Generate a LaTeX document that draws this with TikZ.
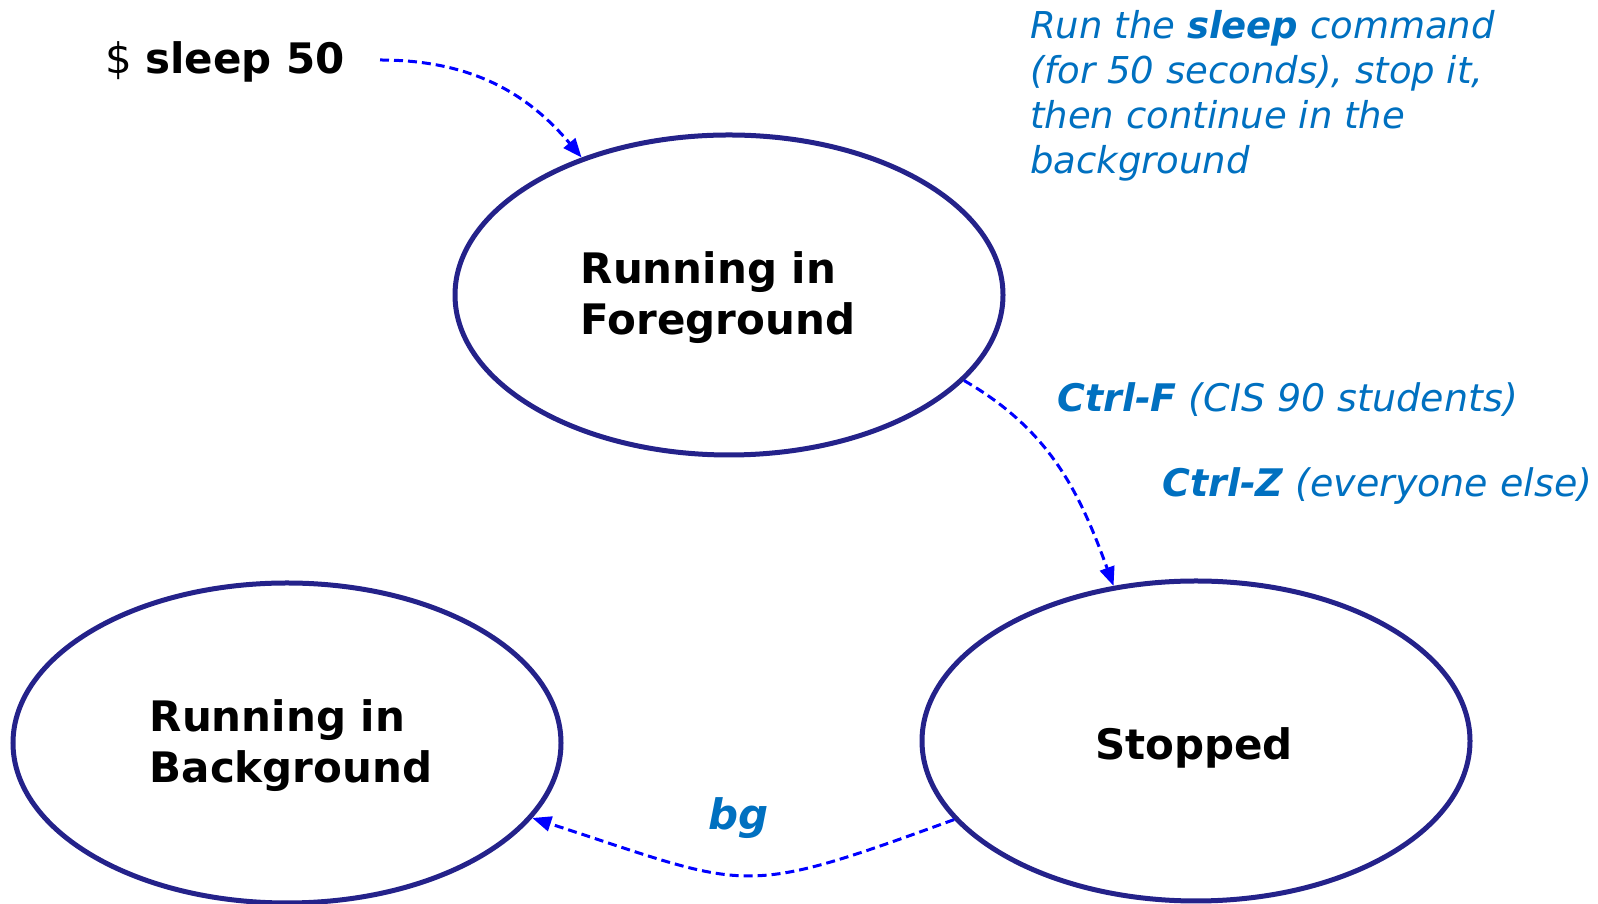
\documentclass[tikz,border=0pt]{standalone}
\usepackage{fontspec}
\setmainfont{DejaVu Sans}
\usetikzlibrary{shapes.geometric, arrows.meta}
\definecolor{navy}{RGB}{36,34,138}
\definecolor{arrowblue}{RGB}{0,0,255}
\definecolor{noteblue}{RGB}{0,112,192}
\tikzset{
  state/.style={ellipse, draw=navy, line width=5pt, minimum width=548pt, minimum height=320pt, inner sep=0pt},
  statelbl/.style={align=left, inner sep=0pt, font=\fontsize{42}{51}\selectfont\bfseries},
  flow/.style={draw=arrowblue, line width=3pt, dash pattern=on 9pt off 5pt, -{Triangle[length=19pt,width=15pt]}},
  note/.style={text=noteblue, font=\fontsize{37}{45}\selectfont\itshape, align=left, inner sep=0pt},
  keynote/.style={note, font=\fontsize{38}{45}\selectfont\itshape},
  cmd/.style={font=\fontsize{42}{51}\selectfont, inner sep=0pt}
}
\begin{document}
\begin{tikzpicture}[x=1pt, y=1pt]
        \useasboundingbox (0,0) rectangle (1598,904);
        % the three states
        \node[state] (fg) at (729,609) {};
        \node[state] (bg) at (287,161) {};
        \node[state] (st) at (1196,163) {};
        \node[statelbl] (fglbl) at (718,606) {Running in\\Foreground};
        \node[statelbl] (bglbl) at (291,158) {Running in\\Background};
        \node[statelbl] (stlbl) at (1194,156) {Stopped};
        % command and notes
        \node[cmd, anchor=base west] (cmd) at (105,830) {\$ \textbf{sleep 50}};
        \coordinate (cmdout) at (380,844);
        \node[note, anchor=north west] (task) at (1030,894) {Run the \textbf{sleep} command\\(for 50 seconds), stop it,\\then continue in the\\background};
        \node[keynote, anchor=base west] (ctrlf) at (1057,492) {\textbf{Ctrl-F} (CIS 90 students)};
        \node[keynote, anchor=base west] (ctrlz) at (1162,407) {\textbf{Ctrl-Z} (everyone else)};
        \node[note, anchor=base west, font=\fontsize{42}{51}\selectfont\bfseries\itshape] (bgcmd) at (708,74) {bg};
        % transitions
        \draw[flow] (cmdout) to[out=0, in=130] (fg.137);
        \draw[flow] (fg.-20) to[out=-30, in=110] (st.118);
        \draw[flow] (st.198) to[out=200, in=-18, looseness=1.4] (bg.-17);
      \end{tikzpicture}
\end{document}
